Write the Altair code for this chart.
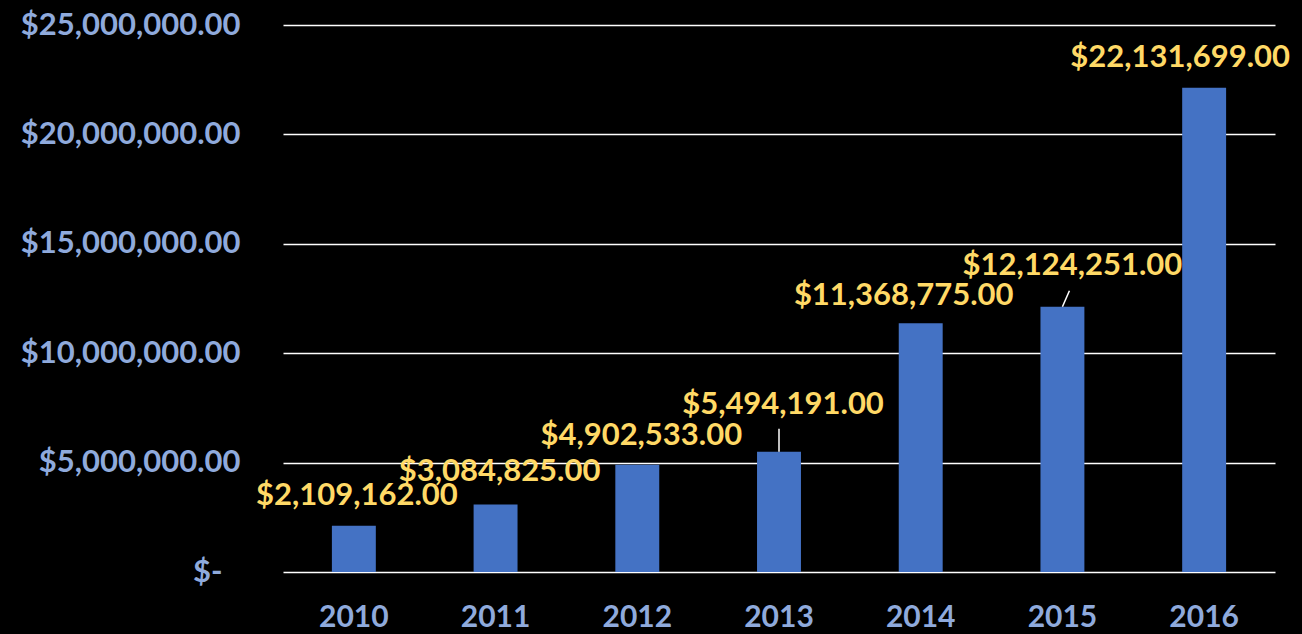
import altair as alt
import pandas as pd

years = ["2010", "2011", "2012", "2013", "2014", "2015", "2016"]
values = [2109162, 3084825, 4902533, 5494191, 11368775, 12124251, 22131699]
y_ticks = [0, 5000000, 10000000, 15000000, 20000000, 25000000]

# label placement (pixel nudges, as in the original hand-placed labels)
label_dx = [3, 4, 4, 4, -17, 10, -24]
label_dy = [-30, -33, -29, -47, -27, -41, -30]

df = pd.DataFrame({"year": years, "value": values})
df["label"] = ["$" + f"{v:,.2f}" for v in values]

FONT = "Lato"
BLUE_TXT = "#8FAADC"
GOLD = "#FFD966"
BAR = "#4472C4"

x_enc = alt.X(
    "year:N",
    title=None,
    sort=years,
    scale=alt.Scale(paddingInner=0.69, paddingOuter=0.345),
    axis=alt.Axis(
        domain=False, ticks=False, labelAngle=0, labelFont=FONT, labelFontSize=30,
        labelFontWeight="bold", labelColor=BLUE_TXT, labelPadding=30,
    ),
)
y_enc = alt.Y(
    "value:Q",
    title=None,
    scale=alt.Scale(domain=[0, 25000000], nice=False),
    axis=alt.Axis(
        values=y_ticks, domain=False, ticks=False, grid=True, gridColor="white",
        gridWidth=1.5, gridOpacity=1, labelFont=FONT, labelFontSize=31,
        labelFontWeight="bold", labelColor=BLUE_TXT, labelLimit=0,
        labelPadding={"condition": {"test": "datum.value == 0", "value": 61}, "value": 43},
        labelExpr="datum.value == 0 ? '$-' : '$' + format(datum.value, ',.2f')",
    ),
)

bars = alt.Chart(df).mark_bar(color=BAR).encode(x=x_enc, y=y_enc)

layers = [bars]

# leader lines
sub13 = df[df.year == "2013"]
layers.append(
    alt.Chart(sub13).mark_rule(color="white", strokeWidth=1.5, y2Offset=-23).encode(
        x=alt.X("year:N", sort=years), y="value:Q", y2="value:Q"
    )
)
sub15 = df[df.year == "2015"]
layers.append(
    alt.Chart(sub15).mark_rule(color="white", strokeWidth=1.5, x2Offset=7, y2Offset=-16).encode(
        x=alt.X("year:N", sort=years), x2="year:N", y="value:Q", y2="value:Q"
    )
)

for i, yr in enumerate(years):
    sub = df[df.year == yr]
    layers.append(
        alt.Chart(sub).mark_text(
            font=FONT, fontSize=31, fontWeight="bold", color=GOLD,
            baseline="middle", align="center", dx=label_dx[i], dy=label_dy[i],
        ).encode(x=alt.X("year:N", sort=years), y="value:Q", text="label:N")
    )

chart = alt.layer(*layers).properties(
    width=992,
    height=547,
    background="black",
    autosize=alt.AutoSizeParams(type="none"),
    padding={"left": 283, "top": 25, "right": 27, "bottom": 62},
).configure_view(stroke=None)

chart.save("out.html", embed_options={"renderer": "svg", "actions": False})
